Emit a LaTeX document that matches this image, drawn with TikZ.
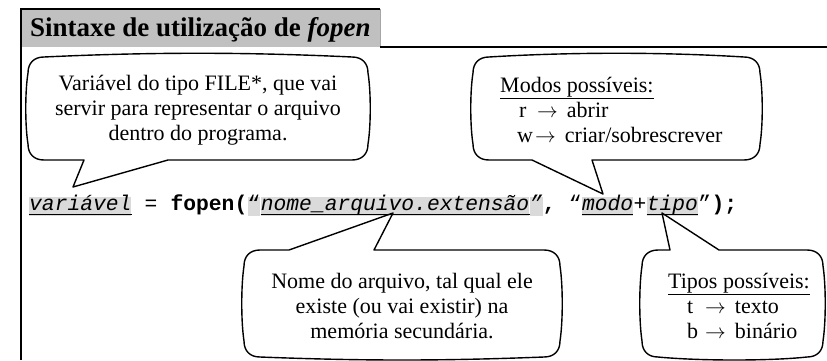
\documentclass[tikz,border=0pt]{standalone}
\usepackage{fontspec}
\setmainfont{Liberation Serif}
\setmonofont{Liberation Mono}
\usetikzlibrary{positioning}
\definecolor{titlegray}{HTML}{C0C0C0}
\definecolor{markgray}{HTML}{DADADA}
\tikzset{
  frameline/.style={line width=2.6pt},
  balloon/.style={draw, line width=1.4pt, line join=round},
  note/.style={font=\fontsize{22}{25}\selectfont, inner sep=0pt},
  code/.style={font=\fontsize{21.3}{24}\selectfont\ttfamily, inner sep=0pt,
    text height=13pt, text depth=6pt, anchor=base west},
  codebold/.style={code, font=\fontsize{21.3}{24}\selectfont\ttfamily\bfseries},
  codemark/.style={fill=markgray},
  uline/.style={line width=0.9pt}
}
\newcommand{\ent}[1]{\makebox[18pt][l]{#1}$\rightarrow$\hspace{9pt}}
% balloon: x1, y1, x2, y2, top edge, bottom edge
\newcommand{\balloon}[6]{%
  \draw[balloon] (#1+16,#2) #5
    .. controls (#3-6,#2) and (#3,#2+6) .. (#3,#2+16)
    .. controls (#3+3,{#2+(#4-#2)/3}) and (#3+3,{#4-(#4-#2)/3}) .. (#3,#4-16)
    .. controls (#3,#4-6) and (#3-6,#4) .. (#3-16,#4)
    #6
    .. controls (#1+6,#4) and (#1,#4-6) .. (#1,#4-16)
    .. controls (#1-3,{#4-(#4-#2)/3}) and (#1-3,{#2+(#4-#2)/3}) .. (#1,#2+16)
    .. controls (#1,#2+6) and (#1+6,#2) .. (#1+16,#2) -- cycle;}
\begin{document}
\begin{tikzpicture}[x=1pt, y=-1pt]
\useasboundingbox (0,0) rectangle (827,360);
% title bar
\fill[titlegray] (21,9) rectangle (380,47);
\draw[gray!70, line width=0.6pt] (380,9) -- (380,46);
\draw[frameline] (21,360) -- (21,9) -- (380,9);
\draw[frameline] (380,47) -- (827,47);
\node[anchor=base west, inner sep=0pt, font=\fontsize{27}{30}\selectfont\bfseries]
  (title) at (30,36) {Sintaxe de utiliza\c{c}\~ao de \textit{fopen}};

% code line
\node[code, codemark] (var) at (29,210) {\textit{variável}};
\node[code] (eq) at (var.base east) {\ =\ \null};
\node[codebold] (fn) at (eq.base east) {fopen(};
\node[code, codemark] (q1) at (fn.base east) {“};
\node[code, codemark] (nome) at (q1.base east) {\textit{nome\_arquivo.extensão}};
\node[code, codemark] (q1c) at (nome.base east) {\textit{”}};
\node[codebold] (comma) at (q1c.base east) {,\ \null};
\node[code] (q2) at (comma.base east) {“};
\node[code, codemark] (modo) at (q2.base east) {\textit{modo}};
\node[code] (plus) at (modo.base east) {+};
\node[code, codemark] (tipo) at (plus.base east) {\textit{tipo}};
\node[code] (q2c) at (tipo.base east) {”};
\node[codebold] (close) at (q2c.base east) {);};
\foreach \n in {var,nome,modo,tipo}
  \draw[uline] ([yshift=-4pt]\n.base west) -- ([yshift=-4pt]\n.base east);

% tips of the balloons
\coordinate (vartip) at (73,187);
\coordinate (modotip) at (603,194);
\coordinate (nometip) at (393,213);
\coordinate (tipotip) at (662,213);

% balloons
\balloon{28}{57}{368}{160}{.. controls (150,52) and (246,52) .. (352,57)}
  {-- (168,160) -- (vartip) -- (84,160) -- (44,160)}
\balloon{473}{57}{760}{160}{.. controls (570,52) and (663,52) .. (744,57)}
  {-- (592,160) -- (modotip) -- (532,160) -- (489,160)}
\balloon{244}{250}{560}{357}{-- (289,250) -- (nometip) -- (374,250) -- (544,250)}
  {.. controls (440,361) and (364,361) .. (260,357)}
\balloon{642}{250}{823}{357}{-- (670,250) -- (tipotip) -- (719,250) -- (807,250)}
  {.. controls (770,361) and (700,361) .. (658,357)}

% texts of the balloons
\node[note, align=center] (varnote) at (198,110)
  {Variável do tipo FILE*, que vai\\servir para representar o arquivo\\dentro do programa.};
\node[note, align=left, anchor=west] (modonote) at (500,110)
  {\underline{Modos possíveis:}\\\hspace*{19pt}\ent{r}abrir\\\hspace*{17pt}\ent{w}criar/sobrescrever};
\node[note, align=center] (nomenote) at (402,306)
  {Nome do arquivo, tal qual ele\\existe (ou vai existir) na\\memória secundária.};
\node[note, align=left, anchor=west] (tiponote) at (668,306)
  {\underline{Tipos possíveis:}\\\hspace*{19pt}\ent{t}texto\\\hspace*{19pt}\ent{b}binário};
\end{tikzpicture}
\end{document}
